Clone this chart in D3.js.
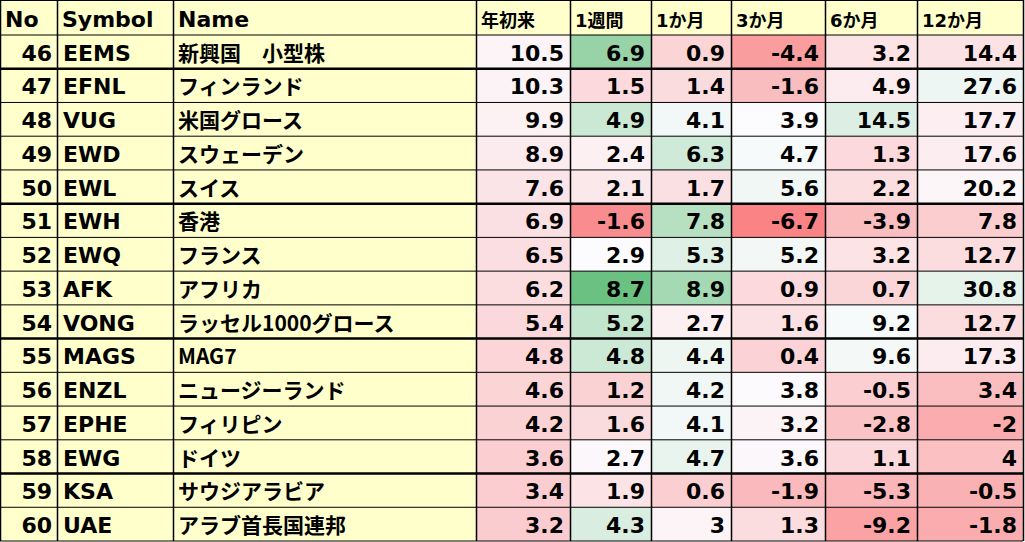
<!DOCTYPE html>
<html><head><meta charset="utf-8">
<script src="https://cdn.jsdelivr.net/npm/d3@7"></script>
<style>body{margin:0;background:#fff}</style>
</head><body><svg id="chart" width="1025" height="542"></svg>
<script>
const headers=['No','Symbol','Name','年初来','1週間','1か月','3か月','6か月','12か月']
const nos=[46,47,48,49,50,51,52,53,54,55,56,57,58,59,60]
const symbols=['EEMS','EFNL','VUG','EWD','EWL','EWH','EWQ','AFK','VONG','MAGS','ENZL','EPHE','EWG','KSA','UAE']
const names=['新興国　小型株','フィンランド','米国グロース','スウェーデン','スイス','香港','フランス','アフリカ','ラッセル1000グロース','MAG7','ニュージーランド','フィリピン','ドイツ','サウジアラビア','アラブ首長国連邦']
const ytd=[10.5,10.3,9.9,8.9,7.6,6.9,6.5,6.2,5.4,4.8,4.6,4.2,3.6,3.4,3.2]
const w1=[6.9,1.5,4.9,2.4,2.1,-1.6,2.9,8.7,5.2,4.8,1.2,1.6,2.7,1.9,4.3]
const m1=[0.9,1.4,4.1,6.3,1.7,7.8,5.3,8.9,2.7,4.4,4.2,4.1,4.7,0.6,3]
const m3=[-4.4,-1.6,3.9,4.7,5.6,-6.7,5.2,0.9,1.6,0.4,3.8,3.2,3.6,-1.9,1.3]
const m6=[3.2,4.9,14.5,1.3,2.2,-3.9,3.2,0.7,9.2,9.6,-0.5,-2.8,1.1,-5.3,-9.2]
const m12=[14.4,27.6,17.7,17.6,20.2,7.8,12.7,30.8,12.7,17.3,3.4,-2,4,-0.5,-1.8]
const valueCols=[ytd,w1,m1,m3,m6,m12]
// colour scale ranges (min, mid, max) per column, estimated from the full list
const colDomains=[[-15,12,40],[-3,2.9,9],[-6,3.5,13],[-9,4,25],[-20,8,40],[-22,22,80]]

const colEdges=[0,57,173,476,570,651,731,825,917,1023]
const headH=35, rowH=(541-headH)/15
const svg=d3.select('#chart')
const x=i=>colEdges[i], cw=i=>colEdges[i+1]-colEdges[i]
const y=d3.scaleLinear().domain([0,15]).range([headH,541])
const fontF='"DejaVu Sans","Noto Sans CJK JP"'

// header
headers.forEach((h,i)=>{
  svg.append('rect').attr('x',x(i)).attr('y',0).attr('width',cw(i)).attr('height',headH).attr('fill','#FFFFCC')
  svg.append('text').attr('x',x(i)+5).attr('y',27).text(h)
    .attr('font-family',fontF).attr('font-weight','bold')
    .attr('font-size',i<3?22:18)
})

nos.forEach((n,r)=>{
  const yy=y(r)
  ;[0,1,2].forEach(c=>svg.append('rect').attr('x',x(c)).attr('y',yy).attr('width',cw(c)).attr('height',rowH).attr('fill','#FFFFCC'))
  svg.append('text').attr('x',x(1)-5).attr('y',yy+rowH-8).attr('text-anchor','end').text(n)
    .attr('font-family',fontF).attr('font-weight','bold').attr('font-size',22)
  svg.append('text').attr('x',x(1)+6).attr('y',yy+rowH-8).text(symbols[r])
    .attr('font-family',fontF).attr('font-weight','bold').attr('font-size',22)
  svg.append('text').attr('x',x(2)+5).attr('y',yy+rowH-8).text(names[r])
    .attr('font-family','"Noto Sans CJK JP"').attr('font-weight','bold').attr('font-size',21)
})

valueCols.forEach((vals,k)=>{
  const c=k+3
  const color=d3.scaleLinear().domain(colDomains[k]).range(['#F8696B','#FCFCFF','#63BE7B']).clamp(true)
  vals.forEach((v,r)=>{
    const yy=y(r)
    svg.append('rect').attr('x',x(c)).attr('y',yy).attr('width',cw(c)).attr('height',rowH).attr('fill',color(v))
    svg.append('text').attr('x',x(c+1)-6).attr('y',yy+rowH-8).attr('text-anchor','end').text(v)
      .attr('font-family',fontF).attr('font-weight','bold').attr('font-size',22)
  })
})

// grid
const thick=new Set([1,5,9,13])
d3.range(16).forEach(r=>{
  svg.append('line').attr('x1',0).attr('x2',1023).attr('y1',y(r)).attr('y2',y(r))
    .attr('stroke','#000').attr('stroke-width',thick.has(r)?2.5:1)
})
colEdges.forEach(cx=>svg.append('line').attr('x1',cx+0.5).attr('x2',cx+0.5).attr('y1',0).attr('y2',541).attr('stroke','#000').attr('stroke-width',1.5))
svg.append('line').attr('x1',0).attr('x2',1023).attr('y1',0.5).attr('y2',0.5).attr('stroke','#000')
</script></body></html>
